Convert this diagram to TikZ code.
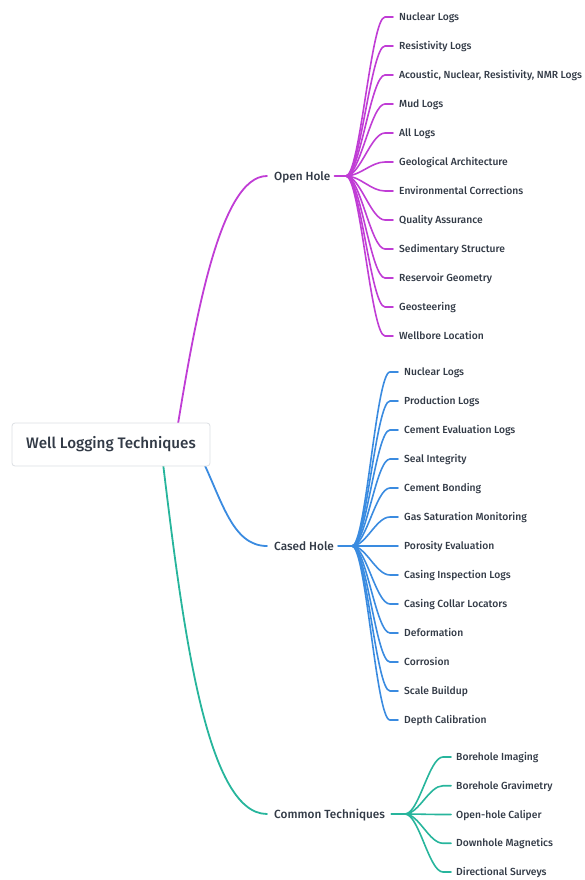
\documentclass[tikz,border=0pt]{standalone}
\usepackage{fontspec}
\setmainfont{Fira Sans}[BoldFont={Fira Sans Medium}]
\usetikzlibrary{calc}
\definecolor{cmag}{HTML}{C03DD5}
\definecolor{cblue}{HTML}{3A8BE0}
\definecolor{cteal}{HTML}{27B59C}
\definecolor{ctext}{HTML}{323A46}
\definecolor{cbord}{HTML}{DCDFE3}
\tikzset{
  leaf/.style={anchor=west, inner sep=0pt, text height=7pt, text depth=0pt, text=ctext, font=\bfseries\fontsize{10.3}{12}\selectfont},
  mid/.style={anchor=west, inner sep=0pt, text height=8.4pt, text depth=0pt, text=ctext, font=\bfseries\fontsize{11.8}{14}\selectfont},
  rootbox/.style={draw=cbord, fill=white, rounded corners=3pt, line width=0.8pt, minimum width=198pt, minimum height=43pt, text=ctext, font=\bfseries\fontsize{15.2}{17}\selectfont},
  br/.style={line width=1.8pt, line cap=round},
}
\begin{document}
\begin{tikzpicture}[x=1pt,y=-1pt]
\useasboundingbox (0,0) rectangle (585,880);
% mid nodes
\node[mid] (oh) at (274,176) {Open Hole};
\node[mid] (ch) at (274,546) {Cased Hole};
\node[mid] (ct) at (274,814) {Common Techniques};
% root connectors
\coordinate (rm) at (177,430);
\coordinate (rb) at (200,455);
\coordinate (rt) at (162,455);
\draw[br, cmag] (rm) .. controls (195,320) and (220,176) .. ($(oh.west)+(-7,0)$);
\draw[br, cblue] (rb) .. controls (222,500) and (232,546) .. ($(ch.west)+(-7,0)$);
\draw[br, cteal] (rt) .. controls (182,620) and (205,814) .. ($(ct.west)+(-7,0)$);
% root
\node[rootbox] (root) at (111,444.5) {Well Logging Techniques};
% Open hole
\coordinate (fo) at (346,176);
\draw[br, cmag] ($(oh.east)+(4,0)$) -- (fo);
\foreach \t [count=\i from 0] in {Nuclear Logs, Resistivity Logs, {Acoustic, Nuclear, Resistivity, NMR Logs}, Mud Logs, All Logs, Geological Architecture, Environmental Corrections, Quality Assurance, Sedimentary Structure, Reservoir Geometry, Geosteering, Wellbore Location}{
  \node[leaf] (o\i) at (399,{17+29*\i}) {\t};
  \draw[br, cmag, line width=1.6pt] (fo) .. controls +(14,0) and +(-14,0) .. ($(o\i.west)+(-14,0)$) -- ($(o\i.west)+(-6,0)$);
}
% Cased hole
\coordinate (fc) at (352,546);
\draw[br, cblue] ($(ch.east)+(4,0)$) -- (fc);
\foreach \t [count=\i from 0] in {Nuclear Logs, Production Logs, Cement Evaluation Logs, Seal Integrity, Cement Bonding, Gas Saturation Monitoring, Porosity Evaluation, Casing Inspection Logs, Casing Collar Locators, Deformation, Corrosion, Scale Buildup, Depth Calibration}{
  \node[leaf] (c\i) at (404,{372+29*\i}) {\t};
  \draw[br, cblue, line width=1.6pt] (fc) .. controls +(14,0) and +(-14,0) .. ($(c\i.west)+(-14,0)$) -- ($(c\i.west)+(-6,0)$);
}
% Common techniques
\coordinate (fk) at (405,814);
\draw[br, cteal] ($(ct.east)+(6,0)$) -- (fk);
\foreach \t [count=\i from 0] in {Borehole Imaging, Borehole Gravimetry, Open-hole Caliper, Downhole Magnetics, Directional Surveys}{
  \node[leaf] (k\i) at (456,{757+28.75*\i}) {\t};
  \draw[br, cteal, line width=1.6pt] (fk) .. controls +(14,0) and +(-14,0) .. ($(k\i.west)+(-13,0)$) -- ($(k\i.west)+(-5,0)$);
}
\end{tikzpicture}
\end{document}
